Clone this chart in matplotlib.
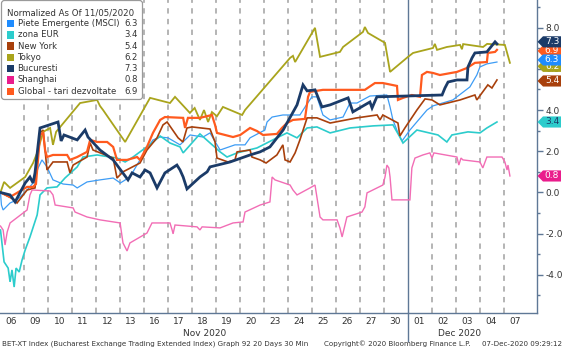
import matplotlib
matplotlib.use("Agg")
import matplotlib.pyplot as plt
import matplotlib.transforms as mtransforms
from matplotlib.patches import Polygon, FancyBboxPatch

# ---------- data (t = trading-day index, v = % change since 11/05/2020) ----------
day_labels = ["06", "09", "10", "11", "12", "13", "16", "17", "18", "19", "20",
              "23", "24", "25", "26", "27", "30", "01", "02", "03", "04", "07"]
month_labels = ["Nov 2020", "Dec 2020"]
month_start = 17  # index of first December day

names = ["Piete Emergente (MSCI)", "zona EUR", "New York", "Tokyo",
         "Bucuresti", "Shanghai", "Global - tari dezvoltate"]
last_values = [6.3, 3.4, 5.4, 6.2, 7.3, 0.8, 6.9]

em_t = [0, 0.04, 0.11, 0.4, 0.69, 1.11, 1.36, 1.57, 1.73, 1.94, 2.19, 2.61, 3.03, 3.2, 3.61,
        4.15, 4.7, 5.0, 5.4, 5.82, 6.03, 6.36, 6.66, 6.99, 7.49, 7.91, 8.45, 8.74, 9.16,
        9.78, 10.2, 10.41, 11.03, 11.12, 11.33, 11.78, 12.49, 12.79, 12.99, 13.2, 13.45,
        13.75, 14.29, 14.58, 14.87, 15.41, 16.12, 16.25, 16.37, 16.58, 16.75, 17.08,
        17.79, 18.04, 18.87, 19.58, 19.87, 20.0, 20.29, 20.71]
em_v = [0, -0.61, -0.85, -0.51, -0.36, 0.12, 0.46, 1.19, 1.58, 1.24, 0.61, 0.41, 0.36, 0.22,
        0.51, 0.61, 0.7, 0.46, 0.75, 1.58, 1.97, 2.55, 2.69, 2.65, 2.31, 2.79, 2.69, 2.89,
        2.06, 2.31, 2.31, 2.65, 3.03, 3.42, 3.66, 3.76, 3.76, 4.3, 4.64, 4.64, 3.76, 3.52,
        3.66, 4.34, 4.34, 4.68, 4.73, 4.15, 3.52, 2.89, 2.5, 3.03, 4.0, 4.2, 4.49, 5.12,
        5.7, 6.09, 6.24, 6.33]

eur_t = [0, 0.15, 0.32, 0.4, 0.48, 0.57, 0.65, 0.78, 0.9, 1.03, 1.23, 1.53, 1.65, 1.94,
         2.36, 2.69, 3.2, 3.44, 4.03, 4.86, 5.2, 5.53, 6.32, 6.66, 7.07, 7.49, 7.62, 8.32,
         9.16, 9.45, 9.87, 10.7, 11.53, 11.95, 12.37, 12.79, 13.2, 13.75, 14.58, 15.54,
         16.37, 16.66, 16.79, 17.37, 18.25, 18.62, 18.83, 19.5, 20.0, 20.29, 20.71]
eur_v = [-1.82, -3.37, -3.67, -4.34, -3.76, -4.59, -3.67, -3.86, -3.28, -2.79, -2.16,
         -1.09, -0.12, 0.22, 0.27, 0.7, 1.24, 1.72, 1.82, 1.67, 1.48, 1.72, 2.4, 2.74, 2.4,
         2.21, 1.92, 2.84, 1.97, 1.72, 1.92, 2.16, 2.65, 2.89, 2.65, 3.13, 3.18, 2.89, 3.13,
         3.23, 3.28, 2.69, 2.4, 3.03, 2.79, 2.45, 2.79, 2.94, 2.89, 3.13, 3.42]

ny_t = [0, 0.53, 0.69, 1.11, 1.44, 1.65, 1.78, 1.94, 2.19, 2.78, 2.9, 3.03, 3.61, 3.74,
        3.86, 4.7, 4.86, 5.11, 5.82, 6.11, 6.53, 6.78, 6.95, 7.41, 7.61, 7.78, 7.99, 8.74,
        8.95, 9.03, 9.49, 9.78, 9.87, 10.41, 10.49, 10.83, 11.08, 11.53, 11.78, 11.87,
        12.08, 12.29, 12.49, 12.79, 13.2, 13.75, 14.87, 15.71, 15.83, 15.95, 16.58, 16.66,
        16.87, 17.37, 17.71, 18.0, 18.33, 19.17, 19.79, 19.87, 20.33, 20.5, 20.71]
ny_v = [0, -0.32, -0.51, 0.12, 0.22, 2.89, 3.03, 1.09, 1.48, 1.48, 0.95, 1.33, 1.72, 2.4,
        2.06, 1.67, 0.7, 1.0, 1.43, 2.06, 2.65, 3.28, 3.42, 2.65, 2.45, 3.13, 3.18, 3.08,
        2.45, 1.67, 1.48, 1.58, 1.97, 2.06, 1.72, 1.58, 1.43, 1.82, 2.31, 1.58, 1.48, 1.92,
        2.55, 3.62, 3.62, 3.37, 3.62, 3.76, 3.52, 3.76, 3.37, 2.74, 3.13, 4.0, 4.54, 4.49,
        4.25, 4.49, 4.73, 4.49, 5.22, 5.07, 5.46]

tokyo_t = [0, 0.15, 0.4, 1.03, 1.36, 1.53, 1.78, 2.07, 2.19, 2.32, 3.32, 4.03, 4.15, 4.28,
           5.2, 6.24, 7.07, 7.28, 7.9, 8.1, 8.32, 8.49, 8.66, 8.82, 9.03, 9.28, 10.08, 10.2,
           12.08, 12.2, 12.29, 13.12, 13.33, 14.16, 14.29, 15.12, 15.2, 15.33, 16.04, 16.25,
           17.0, 17.21, 18.04, 18.12, 18.21, 18.62, 19.17, 19.25, 19.3, 20.13, 20.3, 21.04,
           21.25]
tokyo_v = [0, 0.51, 0.22, 0.75, 1.43, 1.92, 2.94, 3.13, 2.31, 2.94, 4.34, 4.49, 4.2, 4.0,
           2.45, 4.59, 4.34, 4.64, 3.86, 4.1, 3.52, 4.0, 3.42, 3.9, 3.7, 4.15, 3.76, 4.0,
           6.53, 6.63, 6.33, 7.99, 6.58, 6.82, 7.06, 7.79, 8.03, 7.74, 7.26, 5.85, 6.58, 6.77,
           7.01, 7.21, 6.92, 7.06, 7.16, 6.95, 7.2, 7.06, 7.21, 7.16, 6.29]

buc_t = [0, 0.4, 0.61, 1.03, 1.23, 1.36, 1.44, 1.65, 2.4, 2.53, 2.65, 3.2, 3.53, 3.65, 4.15,
         4.7, 5.32, 5.49, 5.82, 6.03, 6.24, 6.53, 6.86, 7.36, 7.49, 7.62, 7.78, 8.32, 8.62,
         8.74, 9.58, 10.41, 10.83, 11.24, 11.79, 12.37, 12.62, 12.79, 13.12, 13.41, 13.75,
         14.5, 14.7, 15.2, 15.41, 15.5, 15.7, 18.42, 18.54, 18.67, 19.04, 19.46, 19.5, 19.67,
         19.79, 20.29, 20.42, 20.63, 20.71]
buc_v = [0, -0.12, -0.46, 0.46, 0.75, 0.46, 0.95, 3.13, 3.42, 2.5, 2.79, 2.55, 3.03, 2.69,
         2.06, 1.58, 0.61, 0.95, 0.75, 1.09, 0.95, 0.22, 0.95, 1.33, 1.09, 0.75, 0.17, 0.75,
         1.0, 1.24, 1.48, 1.82, 1.97, 2.21, 3.03, 4.25, 5.22, 4.93, 4.98, 4.15, 4.25, 4.59,
         3.91, 4.25, 4.39, 4.1, 4.64, 4.73, 5.07, 5.36, 5.46, 5.46, 6.09, 6.53, 6.77, 6.82,
         7.01, 7.31, 7.21]

sh_t = [0, 0.11, 0.19, 0.28, 0.4, 1.11, 1.23, 1.32, 2.07, 2.19, 2.28, 3.03, 3.11, 3.61,
        4.15, 4.99, 5.11, 5.28, 5.4, 6.11, 6.32, 7.07, 7.16, 7.2, 7.28, 8.2, 8.32, 8.41,
        9.16, 9.7, 10.12, 10.2, 10.83, 11.24, 11.33, 11.45, 12.08, 12.2, 12.37, 12.91,
        13.12, 13.33, 13.45, 14.04, 14.16, 14.25, 14.37, 14.45, 15.08, 15.2, 15.29, 15.95,
        16.04, 16.12, 16.2, 16.25, 16.33, 17.08, 17.16, 17.29, 17.62, 17.91, 18.0, 18.08,
        19.04, 19.12, 19.21, 19.29, 20.0, 20.12, 20.29, 20.92, 21.04, 21.13, 21.17, 21.25]
sh_v = [-1.63, -1.82, -2.55, -1.92, -1.48, -0.85, -0.12, 0.12, 0.07, -0.12, -0.61, -0.75,
        -0.95, -1.19, -1.33, -1.48, -2.45, -2.84, -2.45, -1.97, -1.48, -1.48, -1.82, -2.01,
        -1.58, -1.67, -1.82, -1.67, -1.72, -1.48, -1.43, -0.95, -0.61, -0.46, 0.75, 0.61,
        0.36, 0.12, -0.12, 0.22, 0.36, -1.19, -1.33, -1.33, -1.72, -2.16, -1.58, -1.19,
        -0.95, -0.7, -0.02, 0.36, 0.75, 1.33, 1.19, 0.75, -0.36, -0.36, 1.19, 1.67, 1.82,
        1.92, 1.67, 1.92, 1.72, 1.33, 1.67, 1.58, 1.48, 1.19, 1.72, 1.72, 1.48, 1.09, 1.33,
        0.8]

glob_t = [0, 0.4, 0.82, 1.11, 1.36, 1.48, 1.65, 1.78, 1.86, 1.94, 2.19, 2.78, 2.9, 3.2,
          3.61, 3.74, 4.03, 4.45, 4.7, 4.86, 5.28, 5.7, 5.82, 6.11, 6.36, 6.66, 6.86, 7.62,
          7.7, 7.82, 8.32, 8.82, 8.95, 9.03, 9.7, 10.0, 10.41, 10.7, 10.95, 11.53, 11.74,
          11.95, 12.2, 12.7, 12.83, 12.91, 13.45, 15.2, 15.62, 15.95, 16.54, 16.58, 16.79,
          17.16, 17.5, 17.58, 17.79, 18.04, 18.33, 19.04, 19.46, 19.79, 20.29, 20.33, 20.63,
          20.71]
glob_v = [0, -0.22, 0.07, 0.27, 0.27, 0.41, 2.79, 2.89, 2.06, 1.72, 1.82, 1.82, 1.58, 1.72,
          1.97, 2.55, 2.45, 2.45, 2.21, 1.58, 1.58, 1.72, 1.58, 2.21, 2.89, 3.52, 3.66, 3.62,
          3.13, 3.62, 3.62, 3.76, 3.28, 2.89, 2.69, 2.79, 3.13, 2.98, 2.79, 2.84, 3.13, 3.37,
          3.52, 3.57, 4.64, 4.88, 4.98, 4.98, 5.31, 5.31, 5.17, 4.49, 4.59, 4.73, 4.64, 5.7,
          5.85, 5.8, 5.7, 5.85, 6.04, 6.29, 6.33, 6.77, 6.82, 6.92]

# ---------- style ----------
colors = ["#3d9cf5", "#2ccccc", "#a8400c", "#a9a41c", "#1b3b68", "#f26db5", "#ff5a1e"]
legend_colors = ["#1e8cff", "#2ccccc", "#a8400c", "#a9a41c", "#1b3b68", "#ea1c8c", "#ff5a1e"]
widths = [0.9, 1.2, 1.2, 1.3, 2.0, 1.0, 1.6]
zorders = [3, 3, 3, 3, 5, 3, 4]
series_t = [em_t, eur_t, ny_t, tokyo_t, buc_t, sh_t, glob_t]
series_v = [em_v, eur_v, ny_v, tokyo_v, buc_v, sh_v, glob_v]

AXIS_COL = "#5f7896"
TEXT_COL = "#333333"
plt.rcParams["font.family"] = ["DejaVu Sans"]

W, H, DPI = 563, 349, 100
fig = plt.figure(figsize=(W / DPI, H / DPI), dpi=DPI)
ax = fig.add_axes([0, (H - 313) / H, 537 / W, 313 / H])
ax.set_xlim(-0.02, 22.38)
ax.set_ylim(-5.85, 9.34)

# day separators
for k in range(1, len(day_labels)):
    if k == month_start:
        ax.axvline(k, color=AXIS_COL, lw=1.0, zorder=1)
    else:
        ax.axvline(k, color="#a0a0a0", lw=1.1, ls=(0, (3.5, 3.5)), zorder=1)
# month separator extends under the axis
trans = mtransforms.blended_transform_factory(ax.transData, ax.transAxes)
ax.plot([month_start, month_start], [0, -0.09], transform=trans, color=AXIS_COL,
        lw=1.0, clip_on=False)

for t, v, c, lw, z in zip(series_t, series_v, colors, widths, zorders):
    ax.plot(t, v, color=c, lw=lw, zorder=z, solid_joinstyle="miter")

# axes look
for s in ["top", "left"]:
    ax.spines[s].set_visible(False)
for s in ["right", "bottom"]:
    ax.spines[s].set_color(AXIS_COL)
    ax.spines[s].set_linewidth(1.0)
ax.yaxis.tick_right()
ax.set_yticks([-4, -2, 0, 2, 4, 6, 8])
ax.set_yticklabels(["-4.0", "-2.0", "0.0", "2.0", "4.0", "6.0", "8.0"])
ax.set_yticks([-5, -3, -1, 1, 3, 5, 7, 9], minor=True)
ax.tick_params(axis="y", which="major", length=4, width=1.0, color=AXIS_COL,
               labelsize=6.5, labelcolor=TEXT_COL, pad=2)
ax.tick_params(axis="y", which="minor", length=2, width=1.0, color=AXIS_COL)
ax.set_xticks([i + 0.45 for i in range(len(day_labels))])
ax.set_xticklabels(day_labels)
ax.tick_params(axis="x", length=0, labelsize=6.5, labelcolor=TEXT_COL, pad=3)

ax.text(month_start / 2, -0.05, month_labels[0], transform=trans, ha="center",
        va="top", fontsize=6.5, color=TEXT_COL)
ax.text(19.15, -0.05, month_labels[1], transform=trans, ha="center",
        va="top", fontsize=6.5, color=TEXT_COL)

# value tags on the right axis (later tags cover earlier ones)
tag_trans = mtransforms.blended_transform_factory(ax.transAxes, ax.transData)
tag_order = [3, 6, 0, 4, 2, 1, 5]
tag_pos = {3: 6.12, 6: 6.87, 0: 6.43, 4: 7.31, 2: 5.41, 1: 3.42, 5: 0.80}
px = 1.0 / 537
hh = 0.27
for n, i in enumerate(tag_order):
    y = tag_pos[i]
    poly = Polygon([(1 + 0.5 * px, y), (1 + 6 * px, y + hh), (1 + 24 * px, y + hh),
                    (1 + 24 * px, y - hh), (1 + 6 * px, y - hh)], closed=True,
                   transform=tag_trans, clip_on=False, facecolor=legend_colors[i],
                   edgecolor="none", zorder=10 + 2 * n)
    ax.add_patch(poly)
    tc = "#1b3b68" if i == 1 else "white"
    ax.text(1 + 15 * px, y, f"{last_values[i]:.1f}", transform=tag_trans, ha="center",
            va="center", fontsize=6.5, color=tc, zorder=11 + 2 * n, clip_on=False)

# legend box (drawn in pixel space)
ov = fig.add_axes([0, 0, 1, 1], zorder=20)
ov.set_xlim(0, W)
ov.set_ylim(H, 0)
ov.axis("off")
ov.add_patch(FancyBboxPatch((1.5, 0.5), 141, 99, boxstyle="round,pad=0,rounding_size=3",
                            facecolor="white", edgecolor="#9a9a9a", lw=0.9))
ov.text(7, 12.5, "Normalized As Of 11/05/2020", fontsize=6.2, color=TEXT_COL,
        va="center", ha="left")
for r, (nm, c, val) in enumerate(zip(names, legend_colors, last_values)):
    y = 23.5 + r * 11.3
    ov.add_patch(plt.Rectangle((6.5, y - 3.8), 7.5, 7.5, facecolor=c, edgecolor="none"))
    ov.text(17.5, y, nm, fontsize=6.1, color=TEXT_COL, va="center", ha="left")
    ov.text(138, y, f"{val:.1f}", fontsize=6.1, color=TEXT_COL, va="center", ha="right")

# footer
ov.text(2, 344, "BET-XT Index (Bucharest Exchange Trading Extended Index) Graph 92 20 Days 30 Min",
        fontsize=5.1, color=TEXT_COL, va="center", ha="left")
ov.text(324, 344, "Copyright\u00a9 2020 Bloomberg Finance L.P.", fontsize=5.1,
        color=TEXT_COL, va="center", ha="left")
ov.text(562, 344, "07-Dec-2020 09:29:12", fontsize=5.1, color=TEXT_COL,
        va="center", ha="right")

fig.savefig("out.png", dpi=DPI)
